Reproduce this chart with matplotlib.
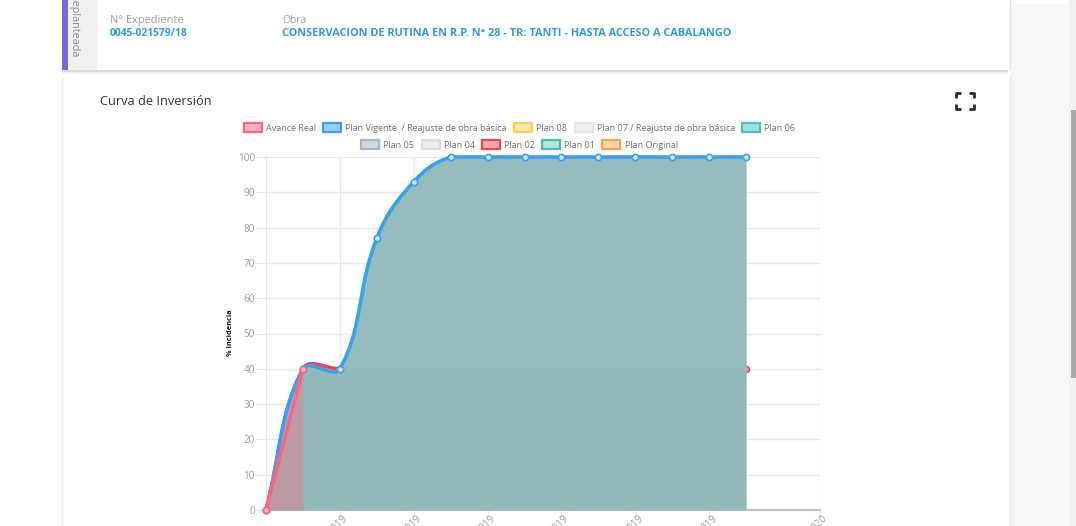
import numpy as np
import matplotlib
matplotlib.use("Agg")
import matplotlib.pyplot as plt
import matplotlib.transforms as mtransforms
from matplotlib.patches import Rectangle, Patch

plt.rcParams['font.family'] = ['Open Sans', 'DejaVu Sans']

W, H, DPI = 1076, 526, 100

# ---------------- data ----------------
months = list(range(14))                       # month index (0 = dic. 2018)
plan_vigente = [0, 40, 40, 77, 93, 100, 100, 100, 100, 100, 100, 100, 100, 100]
plan_02 = [0, 40, 40, 40, 40, 40, 40, 40, 40, 40, 40, 40, 40, 40]
avance_months = [0, 1]
avance_real = [0, 40]
y_ticks = list(range(0, 101, 10))
x_tick_pos = [2, 4, 6, 8, 10, 12, 15]
x_tick_labels = ["02/2019", "04/2019", "06/2019", "08/2019", "10/2019", "12/2019", "03/2020"]
legend_row1 = ["Avance Real", "Plan Vigente  / Reajuste de obra básica", "Plan 08",
               "Plan 07 / Reajuste de obra básica", "Plan 06"]
legend_row2 = ["Plan 05", "Plan 04", "Plan 02", "Plan 01", "Plan Original"]
expediente = "0045-021579/18"
obra = "CONSERVACION DE RUTINA EN R.P. N° 28 - TR: TANTI - HASTA ACCESO A CABALANGO"

# ---------------- styles ----------------
legend_colors1 = [('#FFB1C1', '#FF6384'), ('#9AD0F5', '#36A2EB'), ('#FFE6AA', '#FFCE56'),
                  ('#EEF0F4', '#E2E5EA'), ('#A5DFDF', '#4BC0C0')]
legend_colors2 = [('#CCDAE4', '#9DB7CB'), ('#ECECEC', '#DDDDDD'), ('#FFAAAE', '#F0454F'),
                  ('#B4E6E0', '#45BDB3'), ('#FFD7B0', '#FF9F40')]
BLUE = '#36A2EB'
PINK = '#FF6384'
RED = '#F0454F'
TEAL = '#95BBBD'
MAUVE = '#BD98A5'
XMAX, YMAX = 15, 100


def chartjs_spline(xs, ys, sx, sy, tension=0.4, n=40):
    """Chart.js style cubic bezier through the points (computed in pixel space),
    with control points capped to the chart area."""
    P = np.column_stack([np.asarray(xs, float) * sx, np.asarray(ys, float) * sy])
    m = len(P)
    cprev = P.copy()
    cnext = P.copy()
    for i in range(m):
        p0 = P[i - 1] if i > 0 else P[i]
        p1 = P[i]
        p2 = P[i + 1] if i < m - 1 else P[i]
        d01 = np.hypot(*(p1 - p0))
        d12 = np.hypot(*(p2 - p1))
        tot = d01 + d12
        s01 = d01 / tot if tot else 0
        s12 = d12 / tot if tot else 0
        cprev[i] = p1 - tension * s01 * (p2 - p0)
        cnext[i] = p1 + tension * s12 * (p2 - p0)
    for c in (cprev, cnext):
        c[:, 0] = np.clip(c[:, 0], 0, XMAX * sx)
        c[:, 1] = np.clip(c[:, 1], 0, YMAX * sy)
    pts = [P[0]]
    t = np.linspace(0, 1, n)[1:, None]
    for i in range(m - 1):
        a, b, c, d = P[i], cnext[i], cprev[i + 1], P[i + 1]
        seg = (1 - t) ** 3 * a + 3 * (1 - t) ** 2 * t * b + 3 * (1 - t) * t ** 2 * c + t ** 3 * d
        pts.extend(seg)
    pts = np.array(pts)
    return pts[:, 0] / sx, pts[:, 1] / sy


fig = plt.figure(figsize=(W / DPI, H / DPI), dpi=DPI)
fig.patch.set_facecolor('white')
renderer = fig.canvas.get_renderer()

# background "page" axes in pixel coordinates
bg = fig.add_axes([0, 0, 1, 1], zorder=0)
bg.set_xlim(0, W)
bg.set_ylim(H, 0)
bg.axis('off')

# right page margin and scrollbar
bg.add_patch(Rectangle((1010, 4), 66, H, color='#f8f8f8', lw=0))
bg.add_patch(Rectangle((1069, 0), 7, H, color='#f1f1f1', lw=0))
bg.add_patch(Rectangle((1070.5, 110), 5.5, 268, color='#a9a9a9', lw=0))

# header card
bg.plot([63, 1007], [71, 71], color='#d4d4d4', lw=1.2)
bg.plot([63, 1007], [72.5, 72.5], color='#ededed', lw=1.2)
bg.plot([1010, 1010], [0, 69], color='#e2e2e2', lw=1)
bg.add_patch(Rectangle((68, 0), 30, 70, color='#f1f1f1', lw=0))
bg.add_patch(Rectangle((62, 0), 6, 70, color='#7B6AD6', lw=0))
bg.text(73.5, 26, "Replanteada", rotation=-90, ha='center', va='center',
        fontsize=7.8, color='#8a8a8a')


def fit_text(x, y, s, target_w, fs0, **kw):
    t = bg.text(x, y, s, fontsize=fs0, **kw)
    w = t.get_window_extent(renderer).width
    t.set_fontsize(fs0 * target_w / w)
    return t


fit_text(110, 20.5, "N° Expediente", 73, 7.5, color='#9b9b9b', va='center')
fit_text(110, 33.5, expediente, 78, 7.5, color='#2E9BE0', va='center', fontweight='bold')
fit_text(282, 20.5, "Obra", 24, 7.5, color='#9b9b9b', va='center')
fit_text(282, 33.5, obra, 444, 7.5, color='#2E9BE0', va='center', fontweight='bold')

# chart card borders
bg.plot([62, 62], [77, H], color='#eeeeee', lw=1)
bg.plot([1010, 1010], [77, H], color='#e6e6e6', lw=1)
fit_text(100, 101.5, "Curva de Inversión", 111, 8.5, color='#333333', va='center')

# expand icon
ic = dict(color='#2b2b2b', lw=2, solid_capstyle='butt')
x0, x1, y0, y1, a = 956, 974, 93, 109, 5
bg.plot([x0, x0, x0 + a], [y0 + a, y0, y0], **ic)
bg.plot([x1 - a, x1, x1], [y0, y0, y0 + a], **ic)
bg.plot([x0, x0, x0 + a], [y1 - a, y1, y1], **ic)
bg.plot([x1 - a, x1, x1], [y1, y1, y1 - a], **ic)

# y label
bg.text(230.5, 333, "% Incidencia", rotation=90, ha='center', va='center',
        fontsize=5.3, fontweight='bold', color='#111111')

# ---------------- main chart ----------------
ax = fig.add_axes([266 / W, 1 - 510 / H, 554 / W, 353 / H], zorder=2)
ax.patch.set_alpha(0)
ax.set_xlim(0, XMAX)
ax.set_ylim(0, YMAX)
sx = 554 / XMAX
sy = 353 / YMAX

bx, by = chartjs_spline(months, plan_vigente, sx, sy)
rx, ry = chartjs_spline(months, plan_02, sx, sy)

# Plan 02 (mostly hidden below the fill)
ax.plot(rx, ry, color=RED, lw=2.6, zorder=2.5, clip_on=False)
ax.plot(months, plan_02, 'o', ms=4.5, mfc='#F5858C', mec=RED, mew=1, zorder=2.6, clip_on=False)
# filled area of the plans
ax.fill_between(bx, 0, by, color=TEAL, lw=0, zorder=3)
mask = rx >= 1
ax.fill_between(rx[mask], 0, ry[mask], color='#000000', alpha=0.012, lw=0, zorder=3.1)
# Avance real fill
ax.fill_between(avance_months, 0, avance_real, color=MAUVE, lw=0, zorder=3.2)
# Plan vigente line
ax.plot(bx, by, color=BLUE, lw=2.6, zorder=4, clip_on=False, solid_capstyle='round')
ax.plot(months, plan_vigente, 'o', ms=4.5, mfc='#CFE8FB', mec=BLUE, mew=1.2, zorder=4.1, clip_on=False)
# Avance real line
ax.plot(avance_months, avance_real, color=PINK, lw=2.6, zorder=5, clip_on=False, solid_capstyle='round')
ax.plot(avance_months, avance_real, 'o', ms=4.5, mfc='#FFB1C1', mec=PINK, mew=1.2, zorder=5.1, clip_on=False)

ax.set_yticks(y_ticks)
ax.set_xticks(x_tick_pos)
ax.set_xticklabels(x_tick_labels, rotation=45, ha='right', va='center', rotation_mode='anchor')
ax.set_axisbelow(True)
ax.grid(True, color='#e8e8e8', lw=1)
for sp in ['top', 'right']:
    ax.spines[sp].set_visible(False)
ax.spines['left'].set_color('#e4e4e4')
ax.spines['bottom'].set_color('#c6c6c6')
ax.spines['bottom'].set_linewidth(1.6)
ax.tick_params(axis='y', length=7, color='#e4e4e4', labelcolor='#9a9a9a', labelsize=7.2, pad=1)
ax.tick_params(axis='x', length=5, color='#e4e4e4', labelcolor='#9a9a9a', labelsize=7.0, pad=0)
shift = mtransforms.ScaledTranslation(6 / DPI, 0, fig.dpi_scale_trans)
for lab in ax.get_xticklabels():
    lab.set_transform(lab.get_transform() + shift)

# ---------------- legend (two centred rows) ----------------
def make_handles(cols):
    return [Patch(facecolor=f, edgecolor=e, lw=1.6) for f, e in cols]

common = dict(loc='center', frameon=False, ncol=5, fontsize=6.5, handlelength=2.0,
              handleheight=1.0, handletextpad=0.45, columnspacing=0.8, borderpad=0,
              labelcolor='#707070')
fig.legend(make_handles(legend_colors1), legend_row1,
           bbox_to_anchor=(519.5 / W, 1 - 128 / H), **common)
fig.legend(make_handles(legend_colors2), legend_row2,
           bbox_to_anchor=(519.5 / W, 1 - 145 / H), **common)

fig.savefig('out.png', dpi=DPI, facecolor='white')
